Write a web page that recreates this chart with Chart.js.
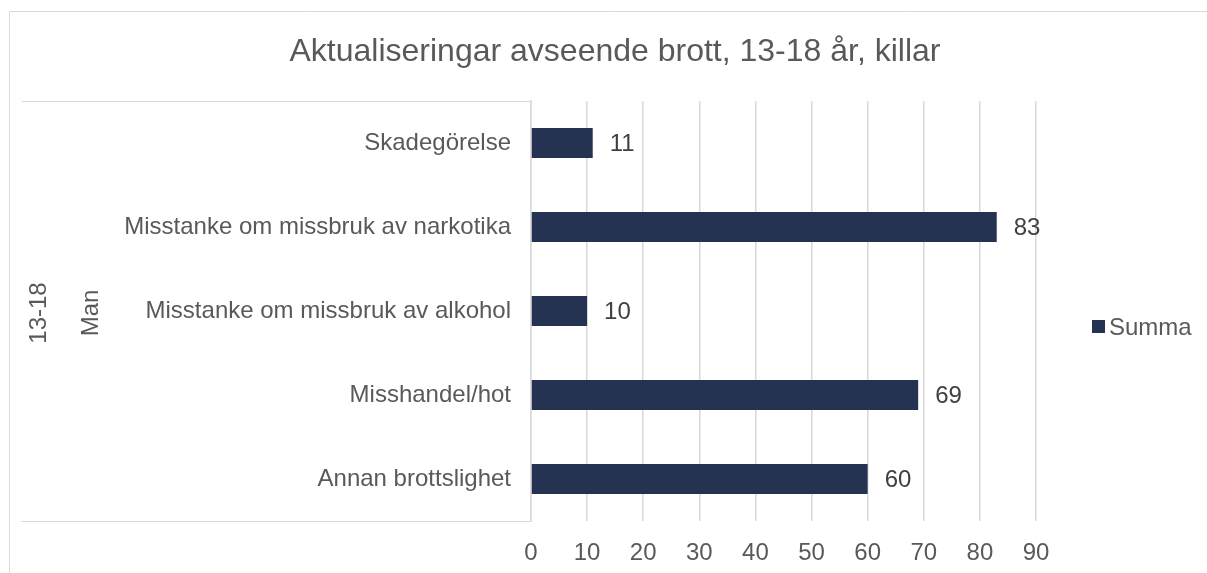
<!DOCTYPE html>
<html>
<head>
<meta charset="utf-8">
<script src="https://cdn.jsdelivr.net/npm/chart.js@4"></script>
<style>
	html, body { margin: 0; padding: 0; background: #fff; }
	#chart { display: block; }
</style>
</head>
<body>
<canvas id="chart" width="1207" height="573"></canvas>
<script>
// data
const chartTitle = 'Aktualiseringar avseende brott, 13-18 år, killar';
const categories = [
	'Skadegörelse',
	'Misstanke om missbruk av narkotika',
	'Misstanke om missbruk av alkohol',
	'Misshandel/hot',
	'Annan brottslighet'
];
const summa = [11, 83, 10, 69, 60];
const groupLabels = ['13-18', 'Man'];
const seriesName = 'Summa';
const xMin = 0;
const xMax = 90;
const xStep = 10;

const FONT = "'Liberation Sans', Arial, sans-serif";
const barColor = '#253252';
const lineColor = '#d9d9d9';
const textColor = '#595959';

// title, legend, group labels, axis frame and value labels
const decorations = {
	id: 'decorations',
	afterDraw(chart) {
		let ctx = chart.ctx;
		let area = chart.chartArea;
		ctx.save();

		// outer frame (left and top edge visible)
		ctx.strokeStyle = lineColor;
		ctx.lineWidth = 1;
		ctx.beginPath();
		ctx.moveTo(9.5, 573);
		ctx.lineTo(9.5, 11.5);
		ctx.lineTo(1207, 11.5);
		ctx.stroke();

		// multi-level category axis frame
		ctx.beginPath();
		ctx.moveTo(22, Math.round(area.top) + 0.5);
		ctx.lineTo(area.left, Math.round(area.top) + 0.5);
		ctx.moveTo(21, Math.round(area.bottom) + 0.5);
		ctx.lineTo(area.left, Math.round(area.bottom) + 0.5);
		ctx.stroke();

		// title
		ctx.fillStyle = textColor;
		ctx.font = '32px ' + FONT;
		ctx.textAlign = 'center';
		ctx.textBaseline = 'middle';
		ctx.fillText(chartTitle, 615, 52);

		// group labels, rotated
		ctx.font = '24px ' + FONT;
		let midY = (area.top + area.bottom) / 2;
		[39, 91].forEach(function(x, i) {
			ctx.save();
			ctx.translate(x, midY + 2);
			ctx.rotate(-Math.PI / 2);
			ctx.fillText(groupLabels[i], 0, 0);
			ctx.restore();
		});

		// legend
		ctx.fillStyle = barColor;
		ctx.fillRect(1092, 320, 13, 13);
		ctx.fillStyle = textColor;
		ctx.textAlign = 'left';
		ctx.fillText(seriesName, 1109, 328);

		// value labels
		ctx.fillStyle = '#404040';
		let meta = chart.getDatasetMeta(0);
		meta.data.forEach(function(bar, i) {
			ctx.fillText(String(summa[i]), bar.x + 17, bar.y + 1);
		});

		ctx.restore();
	}
};

let ctx = document.getElementById('chart').getContext('2d');
new Chart(ctx, {
	type: 'bar',
	data: {
		labels: categories,
		datasets: [{
			label: seriesName,
			data: summa,
			backgroundColor: barColor,
			borderWidth: 0,
			barPercentage: 0.355,
			categoryPercentage: 1
		}]
	},
	options: {
		indexAxis: 'y',
		responsive: false,
		animation: false,
		devicePixelRatio: 1,
		layout: {
			padding: { top: 101, right: 171, bottom: 0, left: 0 }
		},
		plugins: {
			legend: { display: false },
			title: { display: false },
			tooltip: { enabled: false }
		},
		scales: {
			x: {
				min: xMin,
				max: xMax,
				position: 'bottom',
				afterFit: function(scale) { scale.height = 52; },
				ticks: {
					stepSize: xStep,
					padding: 18,
					color: textColor,
					font: { family: FONT, size: 24 }
				},
				grid: {
					color: lineColor,
					lineWidth: 1.5,
					drawTicks: false
				},
				border: { display: false }
			},
			y: {
				position: 'left',
				afterFit: function(scale) { scale.width = 531; },
				ticks: {
					padding: 20,
					autoSkip: false,
					color: textColor,
					font: { family: FONT, size: 24 }
				},
				grid: { display: false, drawTicks: false },
				border: { display: true, color: lineColor, width: 1.5 }
			}
		}
	},
	plugins: [decorations]
});
</script>
</body>
</html>
